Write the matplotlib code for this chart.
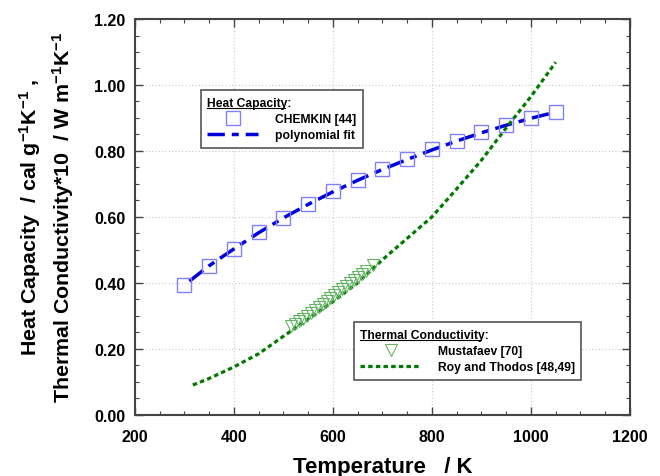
import numpy as np
import matplotlib
matplotlib.use("Agg")
import matplotlib.pyplot as plt
from matplotlib.lines import Line2D
from matplotlib.ticker import MultipleLocator

# CHEMKIN heat capacity points
chemkin_T = [300, 350, 400, 450, 500, 550, 600, 650, 700, 750, 800, 850, 900, 950, 1000, 1050]
chemkin_cp = [0.393, 0.450, 0.502, 0.554, 0.596, 0.638, 0.677, 0.711, 0.745, 0.775, 0.805, 0.830, 0.857, 0.878, 0.899, 0.917]

# polynomial fit line
fit_T = [310, 350, 400, 450, 500, 550, 600, 650, 700, 750, 800, 850, 900, 950, 1000, 1045]
fit_cp = [0.405, 0.452, 0.503, 0.552, 0.597, 0.638, 0.676, 0.711, 0.744, 0.774, 0.803, 0.830, 0.855, 0.878, 0.899, 0.916]

# Mustafaev thermal conductivity points
must_T = [515, 523, 531, 539, 547, 555, 563, 571, 579, 587, 595, 603, 611, 619, 627, 635, 643, 651, 659, 667, 680]
must_k = [0.268, 0.275, 0.283, 0.291, 0.300, 0.309, 0.318, 0.327, 0.336, 0.345, 0.354, 0.363, 0.372,
          0.381, 0.390, 0.399, 0.408, 0.417, 0.426, 0.435, 0.455]

# Roy and Thodos curve
roy_T = [317, 350, 400, 450, 500, 550, 600, 650, 700, 750, 800, 850, 900, 950, 1000, 1050]
roy_k = [0.090, 0.110, 0.145, 0.185, 0.238, 0.290, 0.343, 0.400, 0.470, 0.535, 0.600, 0.685, 0.772, 0.870, 0.965, 1.069]

plt.rcParams['font.family'] = ['Liberation Sans', 'DejaVu Sans']
plt.rcParams['font.weight'] = 'bold'
plt.rcParams['mathtext.fontset'] = 'custom'
plt.rcParams['mathtext.rm'] = 'Liberation Sans:bold'
plt.rcParams['mathtext.bf'] = 'Liberation Sans:bold'
plt.rcParams['mathtext.default'] = 'bf'

fig = plt.figure(figsize=(6.6, 4.77), dpi=100)
ax = fig.add_axes([0.2045, 0.1285, 0.75, 0.8295])

ax.grid(True, which='major', color='#c8c8c8', linestyle=(0, (1, 2)), linewidth=0.8)
ax.set_axisbelow(True)

blue_line, = ax.plot(fit_T, fit_cp, color='#0000dd', lw=2.5, dashes=(5, 2, 2, 2), zorder=3)
squares, = ax.plot(chemkin_T, chemkin_cp, ls='none', marker='s', ms=9.5, mfc='none',
                   mec='#8080ff', mew=1.0, zorder=4)
green_line, = ax.plot(roy_T, roy_k, color='#007a00', lw=2.3, dashes=(1.4, 1.0), zorder=3)
tris, = ax.plot(must_T, must_k, ls='none', marker='v', ms=9, mfc='none',
                mec='#66b366', mew=0.8, zorder=4)

ax.set_xlim(200, 1200)
ax.set_ylim(0, 1.2)
ax.xaxis.set_major_locator(MultipleLocator(200))
ax.xaxis.set_minor_locator(MultipleLocator(50))
ax.yaxis.set_major_locator(MultipleLocator(0.2))
ax.yaxis.set_minor_locator(MultipleLocator(0.05))
ax.yaxis.set_major_formatter(plt.FormatStrFormatter('%.2f'))
ax.tick_params(which='both', direction='in', top=True, right=True, colors='#444444',
               labelcolor='black', labelsize=11.5)
ax.tick_params(which='major', length=6, width=1.0)
ax.tick_params(which='minor', length=3, width=0.8)
ax.tick_params(axis='x', pad=10)
ax.tick_params(axis='y', pad=7)
for s in ax.spines.values():
    s.set_color('#444444')
    s.set_linewidth(1.5)

ax.set_xlabel('Temperature   / K', fontsize=16, fontweight='bold', labelpad=9)
fig.text(0.046, 0.545, 'Heat Capacity  / cal g$^{-1}$K$^{-1}$ ,', rotation=90,
         ha='center', va='center', fontsize=15.4, fontweight='bold')
fig.text(0.096, 0.545, 'Thermal Conductivity*10  / W m$^{-1}$K$^{-1}$', rotation=90,
         ha='center', va='center', fontsize=15.4, fontweight='bold')

leg_kw = dict(frameon=True, fancybox=False, edgecolor='#555555', framealpha=1,
              prop={'size': 8.7, 'weight': 'bold'}, title_fontproperties={'size': 8.7, 'weight': 'bold'},
              alignment='left', handletextpad=1.4, borderpad=0.55, borderaxespad=0,
              labelspacing=0.35)
leg1 = ax.legend([squares, blue_line], ['CHEMKIN [44]', 'polynomial fit'],
                 title='Heat Capacity:', loc='upper left', bbox_to_anchor=(0.133, 0.82),
                 handlelength=4.2, **leg_kw)
leg1.get_frame().set_linewidth(1.2)
ax.add_artist(leg1)
leg2 = ax.legend([tris, green_line], ['Mustafaev [70]', 'Roy and Thodos [48,49]'],
                 title='Thermal Conductivity:', loc='upper left', bbox_to_anchor=(0.442, 0.234),
                 handlelength=5.0, **leg_kw)
leg2.get_frame().set_linewidth(1.2)

# underline the legend titles (without the colon)
fig.canvas.draw()
r = fig.canvas.get_renderer()
for leg in (leg1, leg2):
    t = leg.get_title()
    bb = t.get_window_extent(r)
    frac = (len(t.get_text()) - 1) / len(t.get_text())
    x0 = bb.x0 / fig.bbox.width
    x1 = (bb.x0 + bb.width * frac * 0.985) / fig.bbox.width
    y = (bb.y0 + 1) / fig.bbox.height
    fig.add_artist(Line2D([x0, x1], [y, y], color='black', lw=0.8))

fig.savefig('out.png', dpi=100)
